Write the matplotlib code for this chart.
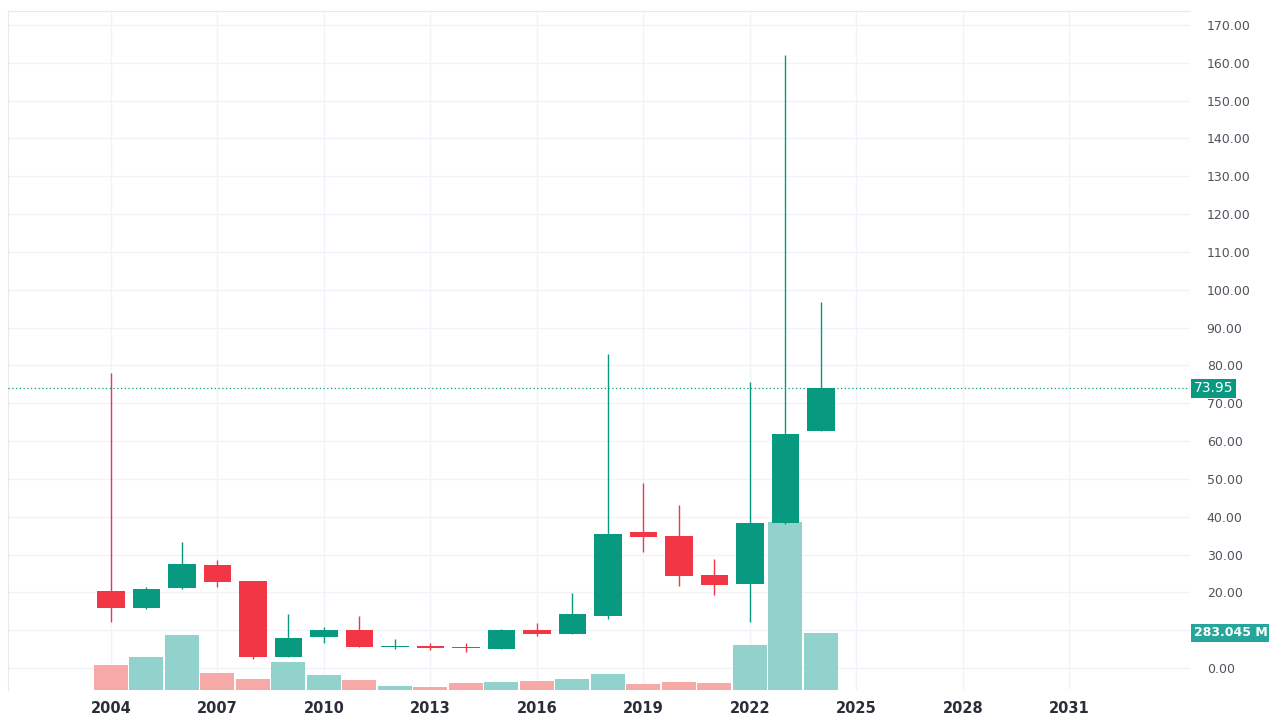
"""
年度K线 + 成交量（仿 TradingView 样式）。
"""

import matplotlib
matplotlib.use("Agg")
import matplotlib.pyplot as plt
from matplotlib.patches import Rectangle

# 数据
years = list(range(2004, 2025))
opens = [20.3, 15.8, 21.2, 27.2, 23.1, 3.0, 8.1, 10.05, 5.6, 5.8, 5.6, 5.0, 10.05, 8.9,
         13.75, 36.05, 35.0, 24.6, 22.2, 38.3, 62.7]
highs = [77.9, 21.5, 33.3, 28.5, 23.1, 14.2, 10.9, 13.75, 7.6, 6.5, 6.5, 10.4, 11.8, 19.75,
         83.0, 48.8, 43.0, 28.7, 75.7, 162.1, 96.8]
lows = [12.2, 15.5, 21.0, 21.5, 2.4, 3.0, 6.7, 5.6, 5.0, 4.85, 4.15, 5.0, 8.5, 8.9,
        13.0, 30.6, 21.8, 19.3, 12.2, 38.0, 62.7]
closes = [15.8, 21.0, 27.4, 22.7, 3.0, 7.85, 10.05, 5.6, 5.8, 5.3, 5.3, 10.05, 8.9, 14.2,
          35.35, 34.6, 24.4, 21.9, 38.3, 61.8, 73.95]
volumes_m = [122, 164, 273, 84, 54, 140, 74, 49, 20, 15, 35, 40, 44, 54,
             78, 30, 41, 36, 222, 830, 283.045]

last_price = 73.95
last_volume = 283.045
last_volume_label = "283.045 M"
year_ticks = list(range(2004, 2032, 3))
price_ticks = list(range(0, 171, 10))

UP = "#089981"
DOWN = "#f23645"
VOL_UP = "#92d2cc"
VOL_DOWN = "#f7a9a7"
GRID = "#f0f3fa"

XLIM = (2001.1, 2034.4)
YLIM = (-5.82, 173.7)

fig = plt.figure(figsize=(12.69, 7.18), dpi=100)
L, R, B, T = 8 / 1269, 1190 / 1269, 28 / 718, 707 / 718
rect = [L, B, R - L, T - B]

# 底层：网格
axg = fig.add_axes(rect, zorder=0)
axg.set_xlim(*XLIM)
axg.set_ylim(*YLIM)
axg.set_xticks(year_ticks)
axg.set_yticks(price_ticks)
axg.grid(True, color=GRID, linewidth=1.0)
axg.tick_params(length=0, labelbottom=False, labelleft=False)
for name, s in axg.spines.items():
    if name in ("top", "left"):
        s.set_color("#e6e8ee")
    else:
        s.set_visible(False)

# 中层：成交量
axv = fig.add_axes(rect, zorder=1)
axv.patch.set_visible(False)
vol_colors = [VOL_UP if c >= o else VOL_DOWN for o, c in zip(opens, closes)]
axv.bar(years, volumes_m, width=0.96, color=vol_colors, edgecolor="none")
axv.set_xlim(*XLIM)
axv.set_ylim(0, last_volume * 679 / 57.3)
axv.set_xticks([])
axv.set_yticks([])
for s in axv.spines.values():
    s.set_visible(False)

# 顶层：K线
ax = fig.add_axes(rect, zorder=2)
ax.patch.set_visible(False)
for y, o, h, l, c in zip(years, opens, highs, lows, closes):
    col = UP if c >= o else DOWN
    ax.vlines(y, l, h, color=col, linewidth=1.0, zorder=3)
    bot = min(o, c)
    hgt = max(abs(c - o), 0.3)
    ax.add_patch(Rectangle((y - 0.39, bot), 0.78, hgt, facecolor=col,
                           edgecolor="none", zorder=4))

ax.axhline(last_price, color=UP, linestyle=(0, (1, 2)), linewidth=0.9, zorder=2)

ax.set_xlim(*XLIM)
ax.set_ylim(*YLIM)
ax.set_xticks(year_ticks)
ax.set_xticklabels([str(v) for v in year_ticks], fontsize=10.5, color="#2a2e39",
                   fontweight="semibold")
ax.set_yticks(price_ticks)
ax.yaxis.tick_right()
# 10.00 被成交量标签遮住
ax.set_yticklabels(["" if v == 10 else f"{v:.2f}" for v in price_ticks],
                   fontsize=9, color="#50535e")
ax.tick_params(axis="x", length=0, pad=8)
ax.tick_params(axis="y", length=0, pad=12)
for s in ax.spines.values():
    s.set_visible(False)

# 右侧标签
ax.text(1.003, last_price, f"{last_price:.2f}", transform=ax.get_yaxis_transform(),
        ha="left", va="center", fontsize=10, color="white",
        bbox=dict(boxstyle="square,pad=0.2", facecolor=UP, edgecolor="none"),
        zorder=10, clip_on=False)
axv.text(1.003, last_volume, last_volume_label, transform=axv.get_yaxis_transform(),
         ha="left", va="center", fontsize=9, color="white", fontweight="semibold",
         bbox=dict(boxstyle="square,pad=0.2", facecolor="#26a69a", edgecolor="none"),
         zorder=10, clip_on=False)

fig.savefig("out.png", dpi=100)
